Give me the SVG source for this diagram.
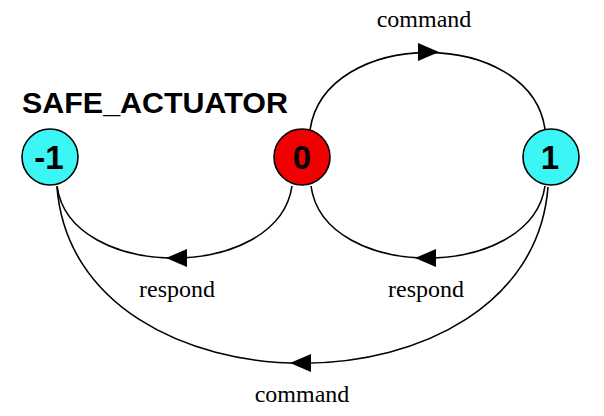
<svg xmlns="http://www.w3.org/2000/svg" width="604" height="416" viewBox="0 0 604 416">
<style>
.edge{fill:none;stroke:#000;stroke-width:1.6}
.node{stroke:#000;stroke-width:1.6}
.cyan{fill:#3cf5f5}
.red{fill:#f00000}
.num{font-family:"Liberation Sans",Arial,sans-serif;font-weight:bold;font-size:33px;text-anchor:middle}
.lbl{font-family:"Liberation Serif","Times New Roman",serif;font-size:24px;text-anchor:middle}
.title{font-family:"Liberation Sans",Arial,sans-serif;font-weight:bold;font-size:29px}
</style>
<defs>
<path id="arr" d="M0,0 L-21,-9 L-21,9 Z" fill="#000"/>
</defs>
<g id="connectors">
<path class="edge" d="M310,130 C325,27 530,27 545,129"/>
<use href="#arr" transform="translate(439,52)"/>
<path class="edge" d="M292,186 C278,282 70,282 57,186"/>
<use href="#arr" transform="translate(166,258) rotate(180)"/>
<path class="edge" d="M545,186 C531,282 324,282 311,186"/>
<use href="#arr" transform="translate(415,258) rotate(180)"/>
<path class="edge" d="M548,187 C530,422 75,422 57,187"/>
<use href="#arr" transform="translate(290,363) rotate(180)"/>
</g>
<g id="title"><text class="title" x="22" y="113" textLength="266" lengthAdjust="spacingAndGlyphs">SAFE_ACTUATOR</text></g>
<g id="node-m1"><circle class="node cyan" cx="50" cy="157" r="28"/><text class="num" x="49" y="169">-1</text></g>
<g id="node-0"><circle class="node red" cx="302" cy="157" r="28"/><text class="num" x="302" y="169">0</text></g>
<g id="node-1"><circle class="node cyan" cx="551" cy="157" r="28"/><text class="num" x="550" y="169">1</text></g>
<g id="labels">
<text class="lbl" x="424" y="27">command</text>
<text class="lbl" x="177" y="297">respond</text>
<text class="lbl" x="426" y="297">respond</text>
<text class="lbl" x="302" y="402">command</text>
</g>
</svg>
